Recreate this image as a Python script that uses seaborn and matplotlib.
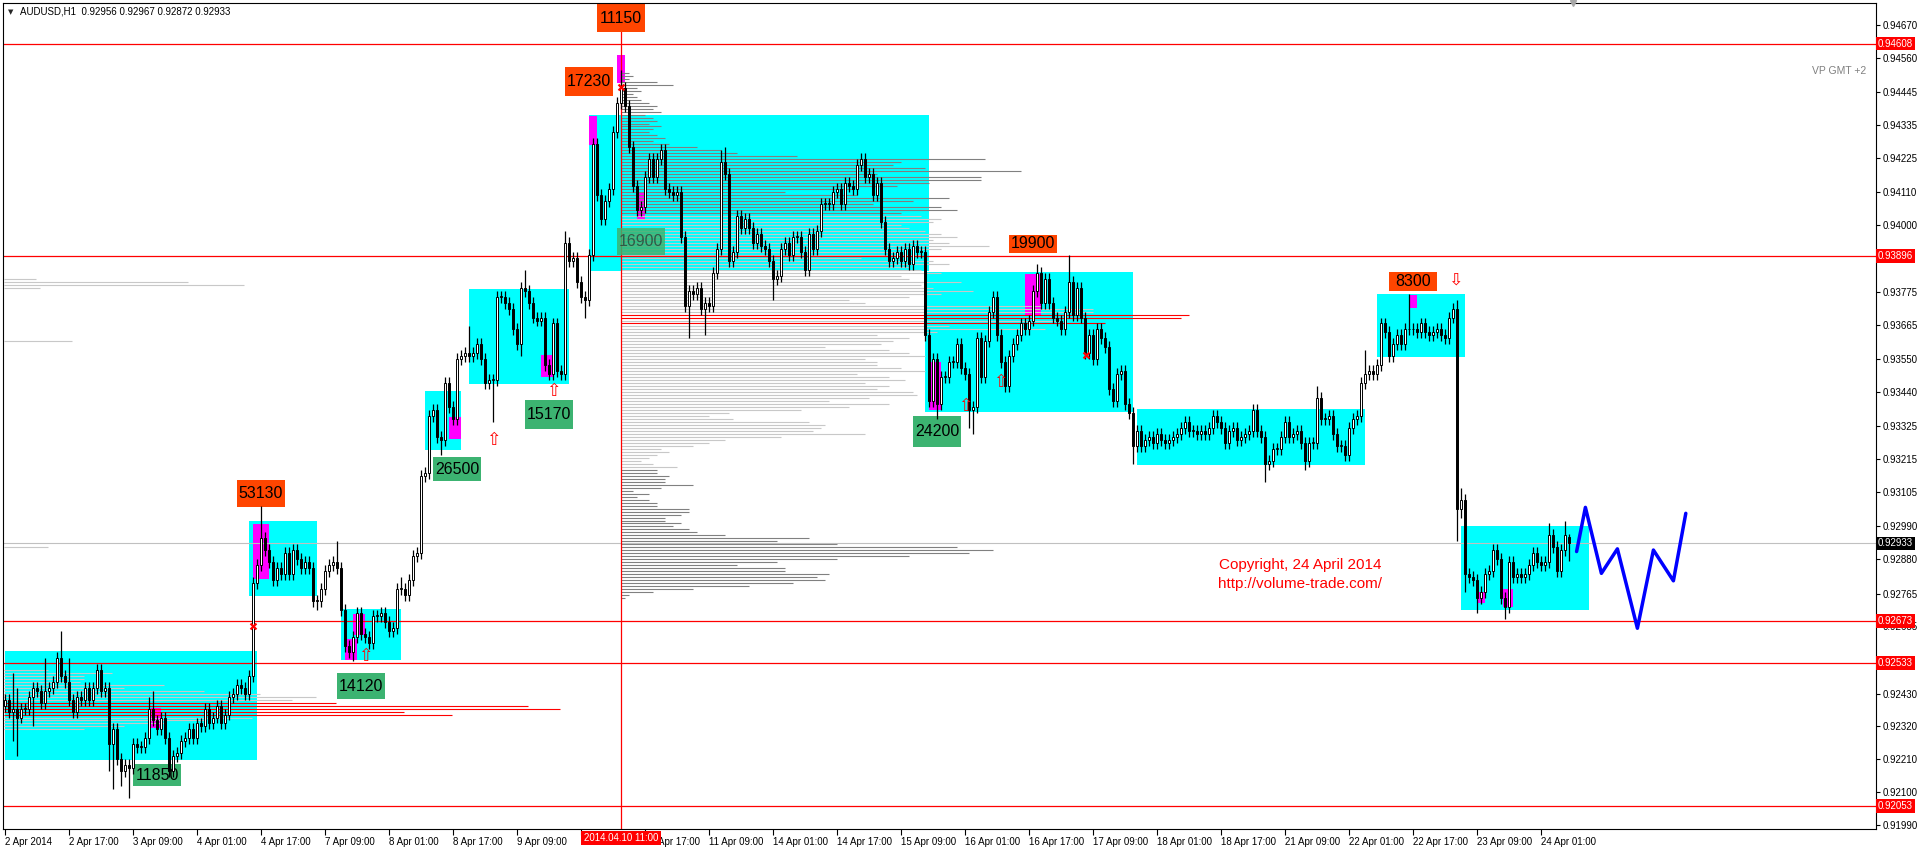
import numpy as np
import pandas as pd
import matplotlib
matplotlib.use("Agg")
import matplotlib.pyplot as plt
from matplotlib.patches import Rectangle
from matplotlib.transforms import blended_transform_factory
import seaborn as sns

# ---------------------------------------------------------------- data
TITLE = "AUDUSD,H1  0.92956 0.92967 0.92872 0.92933"
BASE, PIP = 0.92, 0.0001          # prices below are given in pips above 0.92000

# hourly closes (pips above 0.92), bar 0 = 2 Apr 2014 01:00
CLOSE_PIPS = [
    41, 37, 38, 35, 38, 38, 42, 45, 44, 40,
    44, 45, 47, 55, 49, 47, 41, 37, 42, 41,
    45, 41, 45, 51, 44, 45, 26, 31, 21, 17,
    19, 18, 26, 25, 25, 28, 38, 34, 31, 35,
    28, 17, 22, 23, 27, 28, 31, 28, 33, 32,
    38, 33, 35, 39, 33, 36, 42, 43, 46, 45,
    43, 49, 80, 86, 95, 91, 87, 81, 85, 83,
    90, 83, 91, 88, 85, 87, 85, 74, 74, 78,
    84, 86, 87, 85, 71, 59, 57, 62, 70, 63,
    62, 60, 69, 69, 70, 67, 64, 65, 78, 78,
    76, 81, 89, 90, 116, 117, 136, 138, 129, 128,
    147, 139, 135, 155, 156, 157, 156, 157, 160, 155,
    147, 148, 148, 176, 176, 174, 172, 165, 160, 179,
    178, 174, 169, 168, 169, 153, 150, 167, 151, 150,
    194, 188, 189, 181, 176, 175, 190, 227, 210, 202,
    208, 212, 231, 241, 246, 240, 226, 213, 205, 206,
    216, 222, 216, 222, 225, 212, 211, 210, 211, 196,
    173, 178, 177, 179, 172, 174, 173, 184, 192, 221,
    217, 188, 191, 203, 199, 202, 199, 194, 197, 193,
    192, 188, 182, 183, 192, 194, 190, 196, 196, 191,
    185, 197, 192, 198, 207, 207, 207, 211, 212, 207,
    214, 213, 212, 220, 222, 216, 217, 210, 214, 201,
    192, 188, 189, 191, 188, 192, 187, 193, 191, 191,
    163, 141, 155, 140, 149, 149, 154, 154, 160, 152,
    150, 138, 139, 162, 149, 161, 171, 176, 163, 154,
    146, 156, 160, 163, 167, 165, 168, 178, 184, 174,
    182, 174, 169, 168, 165, 171, 181, 170, 179, 169,
    157, 163, 155, 165, 162, 159, 145, 141, 150, 151,
    140, 137, 126, 131, 126, 128, 129, 127, 130, 128,
    127, 128, 129, 130, 132, 134, 131, 131, 130, 131,
    130, 132, 136, 134, 132, 127, 131, 132, 128, 129,
    130, 131, 138, 131, 129, 120, 121, 125, 125, 129,
    134, 129, 130, 131, 127, 121, 127, 127, 142, 135,
    135, 136, 130, 126, 126, 123, 132, 135, 136, 147,
    150, 151, 150, 153, 167, 164, 156, 160, 163, 160,
    165, 165, 165, 164, 167, 164, 163, 164, 165, 163,
    162, 169, 172, 105, 108, 83, 82, 81, 75, 77,
    83, 84, 91, 88, 75, 72, 87, 82, 83, 82,
    83, 86, 90, 87, 86, 87, 96, 92, 84, 91,
    96, 93.3,
]
FIRST_OPEN_PIPS = 39
LAST_OPEN_PIPS = 95.6
DEFAULT_WICK = 2
UP_WICK = {2: 12, 3: 7, 10: 11, 14: 9, 16: 8, 36: 4, 37: 6, 64: 11, 83: 7, 99: 4,
           116: 9, 130: 6, 140: 4, 154: 6, 179: 4, 180: 5, 258: 3, 266: 9, 328: 4,
           340: 8, 351: 12, 363: 3, 364: 4, 386: 4, 390: 5, 391: 1}
DN_WICK = {2: 10, 3: 13, 7: 10, 26: 9, 27: 15, 29: 5, 31: 10, 78: 3, 87: 3, 109: 5,
           122: 14, 129: 4, 145: 6, 171: 11, 175: 9, 192: 7, 233: 5, 241: 6, 242: 8,
           282: 6, 315: 6, 325: 3, 363: 11, 364: 3, 365: 6, 368: 5, 375: 4, 391: 6}

X_TICK_BARS = list(range(0, 385, 16))
X_TICK_LABELS = ["2 Apr 2014", "2 Apr 17:00", "3 Apr 09:00", "4 Apr 01:00", "4 Apr 17:00",
                 "7 Apr 09:00", "8 Apr 01:00", "8 Apr 17:00", "9 Apr 09:00", "10 Apr 01:00",
                 "10 Apr 17:00", "11 Apr 09:00", "14 Apr 01:00", "14 Apr 17:00", "15 Apr 09:00",
                 "16 Apr 01:00", "16 Apr 17:00", "17 Apr 09:00", "18 Apr 01:00", "18 Apr 17:00",
                 "21 Apr 09:00", "22 Apr 01:00", "22 Apr 17:00", "23 Apr 09:00", "24 Apr 01:00"]
MARKED_BAR = 154
MARKED_LABEL = "2014.04.10 11:00"

Y_TICKS = [0.94670, 0.94560, 0.94445, 0.94335, 0.94225, 0.94110, 0.94000, 0.93890,
           0.93775, 0.93665, 0.93550, 0.93440, 0.93325, 0.93215, 0.93105, 0.92990,
           0.92880, 0.92765, 0.92655, 0.92545, 0.92430, 0.92320, 0.92210, 0.92100, 0.91990]
RED_LEVELS = [0.94608, 0.93896, 0.92673, 0.92533, 0.92053]
LAST_PRICE = 0.92933

# cyan consolidation zones: (first bar, last bar, low pips, high pips)
ZONES = [(-0.1, 63, 20.8, 57.3), (61.1, 77.9, 75.7, 100.7), (84, 99, 54.2, 71.2),
         (105, 114, 124.6, 144.3), (116, 141, 146.6, 178.5), (146.1, 231, 184.7, 236.9),
         (230, 282, 137.5, 184.4), (283, 340, 119.6, 138.4), (342.9, 365, 155.9, 176.9),
         (364, 396, 71.1, 99.2)]
# magenta climax bars
CLIMAX = [(62.1, 66, 81.3, 99.8), (36.4, 39.1, 31.6, 38.3), (85, 88, 54.2, 61.4),
          (87, 90, 62.8, 69.7), (111, 114, 128.4, 135.7), (134, 137, 149.2, 156.5),
          (146, 148, 226.8, 236.5), (153, 155, 247.7, 257.0), (158, 160, 202.0, 211.2),
          (231, 234, 138.0, 154.2), (255, 259, 169.9, 183.6), (351, 353, 172.3, 176.5),
          (368, 370, 73.2, 77.1), (374.4, 377, 71.9, 78.2)]
# volume labels: text, centre bar, centre pips, box height px, kind
VOL_LABELS = [("11150", 154, 269.3, 28, "high"), ("17230", 146, 248.2, 29, "high"),
              ("53130", 64, 110.1, 27, "high"), ("19900", 257, 193.7, 18, "high"),
              ("8300", 352, 181.1, 19, "high"), ("26500", 113, 118.1, 24, "low"),
              ("15170", 136, 136.5, 29, "low"), ("14120", 89, 45.5, 26, "low"),
              ("11850", 38, 15.7, 22, "low"), ("24200", 233, 130.9, 31, "low"),
              ("16900", 159, 194.4, 27, "faded")]

# main volume profile, anchored at bar 154: length (bars) per pip level from 251 down to 75
PROFILE_START = 154
PROFILE_TOP = 251
PROFILE_LEN = [
    2, 3, 2, 9, 13, 4, 5, 3, 4, 5,
    7, 9, 8, 10, 6, 8, 9, 7, 10, 8,
    7, 9, 11, 8, 12, 19, 25, 29, 44, 91,
    70, 68, 76, 100, 64, 90, 90, 77, 69, 58,
    41, 59, 82, 73, 63, 80, 84, 70, 75, 80,
    78, 70, 72, 76, 80, 84, 78, 82, 92, 80,
    70, 75, 60, 78, 82, 72, 75, 80, 70, 72,
    85, 75, 78, 88, 80, 72, 57, 61, 105, 118,
    118, 142, 140, 110, 121, 82, 106, 79, 64, 72,
    68, 65, 51, 67, 72, 76, 61, 64, 64, 70,
    76, 59, 67, 71, 61, 67, 64, 73, 74, 62,
    52, 67, 57, 45, 27, 22, 28, 47, 51, 50,
    48, 61, 40, 26, 22, 18, 10, 12, 9, 7,
    5, 8, 14, 9, 9, 12, 11, 11, 18, 10,
    3, 7, 4, 7, 9, 9, 17, 17, 15, 11,
    11, 15, 13, 17, 19, 26, 47, 39, 54, 84,
    93, 87, 72, 54, 39, 29, 41, 41, 52, 49,
    51, 43, 32, 18, 8, 2, 1,
]
PROFILE_POC = [170, 169, 167]
# left-hand profile (box of 2-4 Apr), anchored at the first bar
LEFT_LEVELS = [51, 50, 49, 48, 47, 46, 45, 44, 43, 42, 41, 40, 39, 38, 37, 36, 35, 34, 33, 32, 31,
               182, 181, 180, 179, 161, 92]
LEFT_LEN = [11, 27, 20, 20, 19, 40, 30, 50, 64, 78, 72, 83, 131, 139, 100, 112, 62, 50, 40, 30, 20,
            8, 46, 60, 9, 17, 11]
LEFT_POC = [40, 39, 38, 37, 36]

# small signal marks
CROSSES = [(62, 65.7), (154, 246.3), (270.2, 156.4)]
ARROWS_UP = [(122, 131), (90, 58.5), (137, 147.5), (240, 142.5), (248.8, 150.4)]
ARROWS_DOWN = [(362.6, 178.8)]

# forecast zigzag (bar, price)
ZIG_BARS = [392.9, 395.1, 399.1, 403.1, 408.1, 412.1, 417.1, 420.2]
ZIG_PRICES = [0.92906, 0.93054, 0.92833, 0.92915, 0.92649, 0.92911, 0.92808, 0.93034]

COPYRIGHT = ("Copyright, 24 April 2014", "http://volume-trade.com/")
COPY_BAR, COPY_PIPS = 323.75, (86.1, 79.7)

# ---------------------------------------------------------------- figure
sns.set_theme(style="white")
plt.rcParams["font.family"] = ["Liberation Sans", "DejaVu Sans"]
plt.rcParams["axes.linewidth"] = 0.8

W, H = 1920, 849
fig = plt.figure(figsize=(W / 100, H / 100), dpi=100)
fig.patch.set_facecolor("white")
AX_L, AX_R, AX_T, AX_B = 3, 1876, 3, 829
ax = fig.add_axes([AX_L / W, (H - AX_B) / H, (AX_R - AX_L) / W, (AX_B - AX_T) / H])
ax.set_facecolor("white")

XMIN, XMAX = -0.5, 467.75
YMAX, YMIN = 0.947437, 0.919765
ax.set_xlim(XMIN, XMAX)
ax.set_ylim(YMIN, YMAX)
px_bar = (AX_R - AX_L) / (XMAX - XMIN)
px_price = (AX_B - AX_T) / (YMAX - YMIN)

def P(v):
    return BASE + np.asarray(v, dtype=float) * PIP

# zones
for b0, b1, lo, hi in ZONES:
    ax.add_patch(Rectangle((b0, P(lo)), b1 - b0, P(hi) - P(lo), fc="#00FFFF", ec="none", zorder=1))
for b0, b1, lo, hi in CLIMAX:
    ax.add_patch(Rectangle((b0, P(lo)), b1 - b0, P(hi) - P(lo), fc="#FF00FF", ec="none", zorder=1.5))

# volume profiles
levels = PROFILE_TOP - np.arange(len(PROFILE_LEN))
cols = []
for lv in levels:
    if lv in PROFILE_POC:
        cols.append("#FF0000")
    elif lv >= 204 or lv <= 118:
        cols.append("#808080")
    else:
        cols.append("#C8C8C8")
ax.hlines(P(levels), PROFILE_START, PROFILE_START + np.asarray(PROFILE_LEN), colors=cols, lw=0.8, zorder=2)
lcols = ["#FF0000" if lv in LEFT_POC else "#C8C8C8" for lv in LEFT_LEVELS]
ax.hlines(P(LEFT_LEVELS), -0.25, -0.25 + np.asarray(LEFT_LEN), colors=lcols, lw=0.8, zorder=2)

# horizontal levels and marker line
for lv in RED_LEVELS:
    ax.axhline(lv, color="#FF0000", lw=0.9, zorder=2.2)
ax.axhline(LAST_PRICE, color="#C0C0C0", lw=0.8, zorder=2.1)
ax.axvline(MARKED_BAR, color="#FF0000", lw=0.9, zorder=2.2)

# volume labels
for text, b, v, hpx, kind in VOL_LABELS:
    w = 48 / px_bar
    h = hpx / px_price
    p = P(v)
    if kind == "high":
        fc, alpha, tc = "#FF4500", 1.0, "black"
    elif kind == "low":
        fc, alpha, tc = "#3CB371", 1.0, "black"
    else:
        fc, alpha, tc = "#3CB371", 0.85, "#2E2E2E"
    ax.add_patch(Rectangle((b - w / 2, p - h / 2), w, h, fc=fc, ec="none", alpha=alpha, zorder=2.5))
    ax.text(b, p, text, ha="center", va="center", fontsize=11.5, color=tc,
            alpha=0.7 if kind == "faded" else 1.0, zorder=2.6)

# candles
c = np.asarray(CLOSE_PIPS, dtype=float)
o = np.r_[FIRST_OPEN_PIPS, c[:-1]]
o[-1] = LAST_OPEN_PIPS
n = len(c)
up = np.array([UP_WICK.get(i, DEFAULT_WICK) for i in range(n)], dtype=float)
dn = np.array([DN_WICK.get(i, DEFAULT_WICK) for i in range(n)], dtype=float)
hi = np.maximum(o, c) + up
lo = np.minimum(o, c) - dn
x = np.arange(n)
df = pd.DataFrame({"bar": x, "open": P(o), "close": P(c), "high": P(hi), "low": P(lo)})
ax.vlines(df["bar"], df["low"], df["high"], color="black", lw=0.9, zorder=4)
body_lo = np.minimum(df["open"], df["close"])
body_h = np.maximum(np.abs(df["close"] - df["open"]), 0.3 * PIP)
face = np.where(df["close"] >= df["open"], "white", "black")
ax.bar(df["bar"], body_h, bottom=body_lo, width=0.72, color=face, edgecolor="black",
       linewidth=0.7, zorder=5)

# signal marks
for b, v in CROSSES:
    ax.scatter([b], [P(v)], marker="x", s=18, color="#FF0000", linewidths=1.6, zorder=6)
for b, v in ARROWS_UP:
    ax.text(b, P(v), "\u21e7", color="#FF0000", fontsize=12.5, ha="center", va="top",
            family="DejaVu Sans", zorder=6)
for b, v in ARROWS_DOWN:
    ax.text(b, P(v), "\u21e9", color="#FF0000", fontsize=12.5, ha="center", va="bottom",
            family="DejaVu Sans", zorder=6)

# forecast zigzag
sns.lineplot(x=ZIG_BARS, y=ZIG_PRICES, color="#0000FF", lw=2.5, sort=False, ax=ax, zorder=6)

# copyright
ax.text(COPY_BAR, P(COPY_PIPS[0]), COPYRIGHT[0], color="#FF0000", fontsize=11, ha="center",
        va="center", zorder=6)
ax.text(COPY_BAR, P(COPY_PIPS[1]), COPYRIGHT[1], color="#FF0000", fontsize=11, ha="center",
        va="center", zorder=6)

# chart shift marker
ax.plot([n], [YMAX], marker="v", color="#A8A8A8", ms=5, clip_on=False, zorder=7)

# axes styling
for s in ax.spines.values():
    s.set_color("black")
    s.set_linewidth(0.8)
ax.yaxis.tick_right()
ax.set_yticks(Y_TICKS)
# tick labels that sit under a price tag are hidden by that tag in the terminal
tags = RED_LEVELS + [LAST_PRICE]
ylabels = ["" if min(abs(t - g) for g in tags) < 0.00016 else f"{t:.5f}" for t in Y_TICKS]
ax.set_yticklabels(ylabels)
ax.tick_params(axis="y", which="both", direction="out", length=3, width=0.8, pad=2,
               labelsize=7, colors="black", right=True, left=False)
ax.set_xticks(X_TICK_BARS)
# only the date label fully under the marked-time tag is hidden
xlabels = ["" if MARKED_BAR - 12 < b <= MARKED_BAR else t for b, t in zip(X_TICK_BARS, X_TICK_LABELS)]
ax.set_xticklabels(xlabels, ha="left")
ax.tick_params(axis="x", which="both", direction="out", length=4, width=0.8, pad=1.5,
               labelsize=7, colors="black", bottom=True)
for lab in ax.get_xticklabels():
    lab.set_horizontalalignment("left")
ax.set_xlabel("")
ax.set_ylabel("")
ax.grid(False)

# price tags on the right axis
ytrans = blended_transform_factory(ax.transAxes, ax.transData)
for lv in RED_LEVELS:
    ax.text(1.0 + 2 / (AX_R - AX_L), lv, f"{lv:.5f}", transform=ytrans, ha="left", va="center",
            fontsize=7, color="white", zorder=10, clip_on=False,
            bbox=dict(boxstyle="square,pad=0.2", fc="#FF0000", ec="none"))
ax.text(1.0 + 2 / (AX_R - AX_L), LAST_PRICE, f"{LAST_PRICE:.5f}", transform=ytrans, ha="left",
        va="center", fontsize=7, color="white", zorder=10, clip_on=False,
        bbox=dict(boxstyle="square,pad=0.2", fc="black", ec="none"))

# marked time tag on the bottom axis
xtrans = blended_transform_factory(ax.transData, ax.transAxes)
ax.text(MARKED_BAR, -9 / (AX_B - AX_T), MARKED_LABEL, transform=xtrans, ha="center", va="center",
        fontsize=7, color="white", zorder=10, clip_on=False,
        bbox=dict(boxstyle="square,pad=0.25", fc="#FF0000", ec="none"))

# header texts
fig.text(8 / W, 1 - 12 / H, "\u25bc", fontsize=5, va="center", ha="left", family="DejaVu Sans")
fig.text(20 / W, 1 - 12 / H, TITLE, fontsize=7, va="center", ha="left", color="black")
fig.text(1866 / W, 1 - 71 / H, "VP GMT +2", fontsize=7.5, va="center", ha="right", color="#808080")

fig.savefig("out.png", dpi=100, facecolor="white")
